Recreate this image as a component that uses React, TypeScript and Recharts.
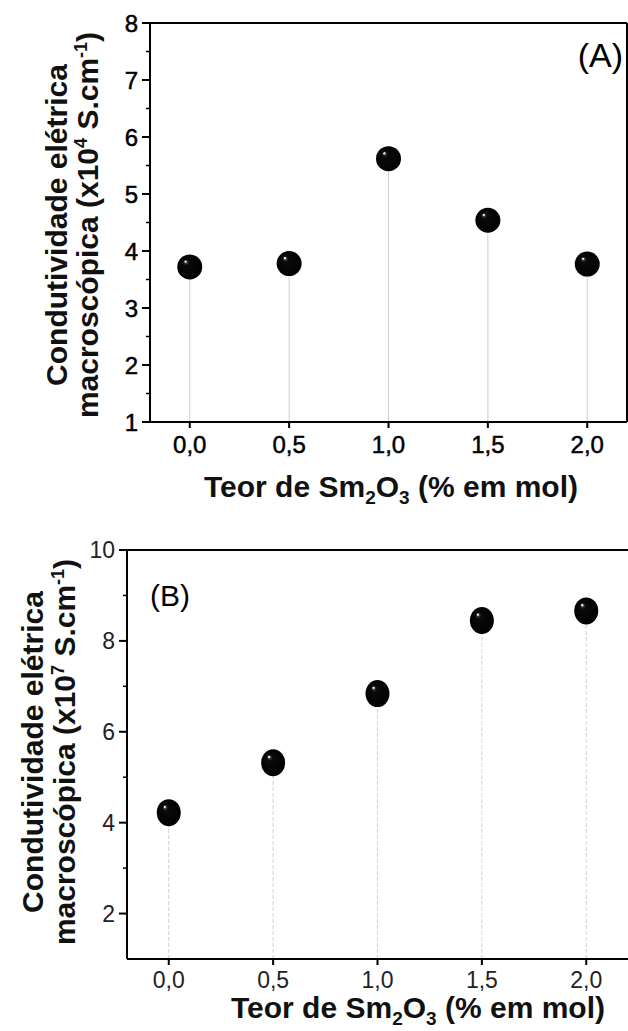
import React from 'react';
import { ScatterChart, Scatter, XAxis, YAxis, ReferenceLine } from 'recharts';

// Sm2O3 content (% mol)
const smContent = [0, 0.5, 1.0, 1.5, 2.0];
// Macroscopic electrical conductivity, x10^4 S.cm^-1
const conductivityA = [3.72, 3.78, 5.62, 4.54, 3.77];
// Macroscopic electrical conductivity, x10^7 S.cm^-1
const conductivityB = [4.22, 5.32, 6.84, 8.45, 8.66];

const xTicks = [0, 0.5, 1.0, 1.5, 2.0];
const yMajorA = [1, 2, 3, 4, 5, 6, 7, 8];
const yMinorA = [1.5, 2.5, 3.5, 4.5, 5.5, 6.5, 7.5];
const yMajorB = [2, 4, 6, 8, 10];
const yMinorB = [3, 5, 7, 9];

const dataA = smContent.map((x, i) => ({ x, y: conductivityA[i] }));
const dataB = smContent.map((x, i) => ({ x, y: conductivityB[i] }));

const FONT = '"Liberation Sans", Arial, sans-serif';
const fmtComma = (v: number) => v.toFixed(1).replace('.', ',');

const Y_TICK_SIZE = 8;
const Y_MINOR_SIZE = 4;
const Y_TICK_MARGIN = 4;

function makeSphere(prefix: string, rx: number, ry: number) {
  return (props: any) => {
    const { cx, cy, index } = props;
    if (cx == null || cy == null) return <g />;
    const id = `${prefix}-grad-${index}`;
    return (
      <g>
        <defs>
          <radialGradient id={id} cx="0.5" cy="0.5" r="0.55" fx="0.32" fy="0.27">
            <stop offset="0" stopColor="#ffffff" />
            <stop offset="0.05" stopColor="#eeeeee" />
            <stop offset="0.11" stopColor="#3a3a3a" />
            <stop offset="0.22" stopColor="#0a0a0a" />
            <stop offset="1" stopColor="#000000" />
          </radialGradient>
        </defs>
        <ellipse cx={cx} cy={cy} rx={rx} ry={ry} fill={`url(#${id})`} />
      </g>
    );
  };
}

const sphereA = makeSphere('a', 12.5, 12.5);
const sphereB = makeSphere('b', 12, 13.5);

// Y tick: long tick + label for major values, short tick only for minor values
function makeYTick(majors: number[], fontSize: number, color: string, heavy: boolean) {
  return (props: any) => {
    const { x, y, payload } = props;
    const v = payload.value;
    const isMajor = majors.some((m) => Math.abs(m - v) < 1e-9);
    const axisX = x + Y_TICK_SIZE + Y_TICK_MARGIN;
    return (
      <g>
        <line
          x1={axisX}
          x2={axisX - (isMajor ? Y_TICK_SIZE : Y_MINOR_SIZE)}
          y1={y}
          y2={y}
          stroke="#000"
          strokeWidth={isMajor ? 2 : 1.5}
        />
        {isMajor && (
          <text
            x={x}
            y={y}
            dy="0.355em"
            textAnchor="end"
            fontFamily={FONT}
            fontSize={fontSize}
            fill={color}
            stroke={heavy ? color : 'none'}
            strokeWidth={heavy ? 0.5 : 0}
          >
            {v}
          </text>
        )}
      </g>
    );
  };
}

type PanelProps = {
  data: { x: number; y: number }[];
  yDomain: [number, number];
  yMajor: number[];
  yMinor: number[];
  top: number;
  height: number;
  marginTop: number;
  marginRight: number;
  yAxisWidth: number;
  xAxisHeight: number;
  tickFontSize: number;
  tickColor: string;
  heavyTicks: boolean;
  tickMarginX: number;
  shape: any;
  dropDash?: string;
  border: boolean;
};

function Panel(p: PanelProps) {
  const xTickStyle = {
    fontFamily: FONT,
    fontSize: p.tickFontSize,
    fill: p.tickColor,
    stroke: p.heavyTicks ? p.tickColor : 'none',
    strokeWidth: p.heavyTicks ? 0.5 : 0,
  };
  const axisLine = { stroke: '#000', strokeWidth: 2 };
  const allY = [...p.yMajor, ...p.yMinor].sort((a, b) => a - b);
  const yTick = makeYTick(p.yMajor, p.tickFontSize, p.tickColor, p.heavyTicks);
  return (
    <div style={{ position: 'absolute', left: 0, top: p.top, width: 628, height: p.height }}>
      <ScatterChart
        width={628}
        height={p.height}
        margin={{ top: p.marginTop, right: p.marginRight, left: 0, bottom: 0 }}
      >
        <XAxis
          type="number"
          dataKey="x"
          domain={[-0.2, 2.2]}
          ticks={xTicks}
          tickFormatter={fmtComma}
          allowDataOverflow
          height={p.xAxisHeight}
          axisLine={axisLine}
          tickLine={{ stroke: '#000', strokeWidth: 2 }}
          tickSize={6}
          tickMargin={p.tickMarginX}
          tick={xTickStyle}
        />
        <YAxis
          yAxisId="main"
          type="number"
          dataKey="y"
          domain={p.yDomain}
          ticks={allY}
          interval={0}
          allowDataOverflow
          width={p.yAxisWidth}
          axisLine={axisLine}
          tickLine={false}
          tickSize={Y_TICK_SIZE}
          tickMargin={Y_TICK_MARGIN}
          tick={yTick}
        />
        {p.border && (
          <ReferenceLine yAxisId="main" x={2.2} stroke="#000" strokeWidth={2} ifOverflow="visible" />
        )}
        <ReferenceLine yAxisId="main" y={p.yDomain[1]} stroke="#000" strokeWidth={2} ifOverflow="visible" />
        {p.data.map((d, i) => (
          <ReferenceLine
            key={i}
            yAxisId="main"
            segment={[
              { x: d.x, y: p.yDomain[0] },
              { x: d.x, y: d.y },
            ]}
            stroke="#cfcfcf"
            strokeWidth={1}
            strokeDasharray={p.dropDash}
          />
        ))}
        <Scatter
          yAxisId="main"
          data={p.data}
          fill="#000"
          shape={p.shape}
          isAnimationActive={false}
        />
      </ScatterChart>
    </div>
  );
}

const titleStyle: React.CSSProperties = {
  fontFamily: FONT,
  fontWeight: 700,
  fontSize: 30,
  fill: '#111',
};

function XTitle({ x, y }: { x: number; y: number }) {
  return (
    <text x={x} y={y} textAnchor="middle" style={titleStyle}>
      Teor de Sm
      <tspan fontSize={19} dy={7}>2</tspan>
      <tspan dy={-7}>O</tspan>
      <tspan fontSize={19} dy={7}>3</tspan>
      <tspan dy={-7}> (% em mol)</tspan>
    </text>
  );
}

function YTitle({ x1, x2, cy, exp }: { x1: number; x2: number; cy: number; exp: string }) {
  return (
    <g>
      <text x={x1} y={cy} textAnchor="middle" transform={`rotate(-90 ${x1} ${cy})`} style={titleStyle}>
        Condutividade elétrica
      </text>
      <text x={x2} y={cy} textAnchor="middle" transform={`rotate(-90 ${x2} ${cy})`} style={titleStyle}>
        macroscópica (x10
        <tspan fontSize={18} dy={-11}>{exp}</tspan>
        <tspan dy={11}> S.cm</tspan>
        <tspan fontSize={18} dy={-11}>-1</tspan>
        <tspan dy={11}>)</tspan>
      </text>
    </g>
  );
}

export default function App() {
  return (
    <div style={{ position: 'absolute', left: 0, top: 0, width: 628, height: 1031, background: '#fff' }}>
      <Panel
        data={dataA}
        yDomain={[1, 8]}
        yMajor={yMajorA}
        yMinor={yMinorA}
        top={0}
        height={500}
        marginTop={23}
        marginRight={1}
        yAxisWidth={150}
        xAxisHeight={78}
        tickFontSize={24}
        tickColor="#000"
        heavyTicks
        tickMarginX={8}
        shape={sphereA}
        border
      />
      <Panel
        data={dataB}
        yDomain={[1, 10]}
        yMajor={yMajorB}
        yMinor={yMinorB}
        top={520}
        height={511}
        marginTop={30}
        marginRight={0}
        yAxisWidth={127}
        xAxisHeight={72}
        tickFontSize={23}
        tickColor="#222"
        heavyTicks={false}
        tickMarginX={7}
        shape={sphereB}
        dropDash="4 2"
        border={false}
      />
      <svg
        width={628}
        height={1031}
        style={{ position: 'absolute', left: 0, top: 0, pointerEvents: 'none' }}
      >
        <YTitle x1={67} x2={98} cy={225} exp="4" />
        <XTitle x={391} y={497} />
        <text x={623} y={67} textAnchor="end" style={{ fontFamily: FONT, fontSize: 34, fill: '#000' }}>
          (A)
        </text>
        <YTitle x1={43} x2={75} cy={752} exp="7" />
        <XTitle x={418} y={1018} />
        <text x={150} y={606} style={{ fontFamily: FONT, fontSize: 30, fill: '#000' }}>
          (B)
        </text>
      </svg>
    </div>
  );
}
